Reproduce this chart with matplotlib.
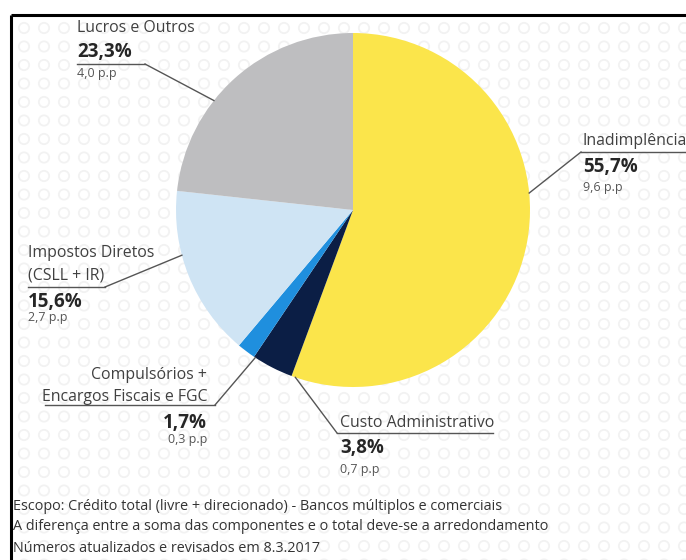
import numpy as np
import matplotlib
matplotlib.use("Agg")
import matplotlib.pyplot as plt

# Decomposicao do spread bancario (ICC) - participacao de cada componente
labels = ["Inadimplência", "Custo Administrativo",
          "Compulsórios +\nEncargos Fiscais e FGC",
          "Impostos Diretos\n(CSLL + IR)", "Lucros e Outros"]
shares = [55.7, 3.8, 1.7, 15.6, 23.3]          # % do spread
points = [9.6, 0.7, 0.3, 2.7, 4.0]             # pontos percentuais
colors = ["#FBE54B", "#0B1E45", "#1F8FDE", "#CFE4F4", "#BEBEC0"]

notes = [
    "Escopo: Crédito total (livre + direcionado) - Bancos múltiplos e comerciais",
    "A diferença entre a soma das componentes e o total deve-se a arredondamento",
    "Números atualizados e revisados em 8.3.2017",
]

W, H = 686, 560
CX, CY, R = 353, 210, 177

# posicao dos rotulos em pixels (y de cima para baixo):
# x do texto, alinhamento, y das linhas do nome, y do %, y do p.p,
# sublinhado (y, x0, x1), ponta do sublinhado ligada ao grafico, angulo na borda
LAYOUT = [
    dict(x=583, ha="left", name_y=[141], pct_y=167, pp_y=187,
         ul=(152, 581, 686), tip=(581, 152), ang=5.5),
    dict(x=340, ha="left", name_y=[423], pct_y=448, pp_y=470,
         ul=(433, 337, 493), tip=(337, 433), ang=251),
    dict(x=207, ha="right", name_y=[375, 397], pct_y=423, pp_y=440,
         ul=(405, 45, 215), tip=(215, 405), ang=236.5),
    dict(x=28, ha="left", name_y=[253, 275], pct_y=302, pp_y=318,
         ul=(287, 28, 105), tip=(105, 287), ang=194.8),
    dict(x=77, ha="left", name_y=[28], pct_y=52, pp_y=74,
         ul=(64, 77, 145), tip=(145, 64), ang=141.8),
]

plt.rcParams["font.family"] = ["Open Sans", "DejaVu Sans"]


def Y(py):
    return H - py


def br(v):
    return f"{v:.1f}".replace(".", ",")


fig = plt.figure(figsize=(W / 100, H / 100), dpi=100)
ax = fig.add_axes([0, 0, 1, 1])

# fundo com padrao claro dentro da moldura
gx, gy = np.meshgrid(np.arange(24, W + 10, 20), np.arange(28, H + 10, 18.5))
ax.scatter(gx.ravel(), Y(gy.ravel()), s=55, marker="o", facecolor="none",
           edgecolor="#F2F2F2", linewidth=1.3, zorder=0)

ax.pie(shares, colors=colors, startangle=90, counterclock=False,
       center=(CX, Y(CY)), radius=R, frame=True,
       wedgeprops=dict(linewidth=0))

txt = "#404040"
for lab, s, p, lay in zip(labels, shares, points, LAYOUT):
    for line, ly in zip(lab.split("\n"), lay["name_y"]):
        ax.text(lay["x"], Y(ly), line, ha=lay["ha"], va="center",
                fontsize=11.4, color=txt, zorder=5)
    ax.text(lay["x"], Y(lay["pct_y"]), br(s) + "%", ha=lay["ha"], va="center",
            fontsize=13.5, fontweight="bold", color="#262626", zorder=5)
    ax.text(lay["x"], Y(lay["pp_y"]), br(p) + " p.p", ha=lay["ha"], va="center",
            fontsize=9, color="#555555", zorder=5)
    uy, ux0, ux1 = lay["ul"]
    ax.plot([ux0, ux1], [Y(uy), Y(uy)], color="#555555", lw=1.0, zorder=4)
    a = np.deg2rad(lay["ang"])
    ex, ey = CX + R * np.cos(a), Y(CY) + R * np.sin(a)
    tx, ty = lay["tip"]
    ax.plot([tx, ex], [Y(ty), ey], color="#555555", lw=1.0, zorder=4)

for i, n in enumerate(notes):
    ax.text(13, Y(506 + 21 * i), n, ha="left", va="center",
            fontsize=10.4, color="#333333", zorder=5)

# moldura (topo e lateral esquerda)
ax.plot([11, W], [Y(15), Y(15)], color="black", lw=2.2, zorder=6,
        solid_capstyle="butt")
ax.plot([11, 11], [Y(15), 0], color="black", lw=2.2, zorder=6,
        solid_capstyle="butt")

ax.set_xlim(0, W)
ax.set_ylim(0, H)
ax.set_aspect("auto")
ax.axis("off")

fig.savefig("out.png", dpi=100, facecolor="white")
